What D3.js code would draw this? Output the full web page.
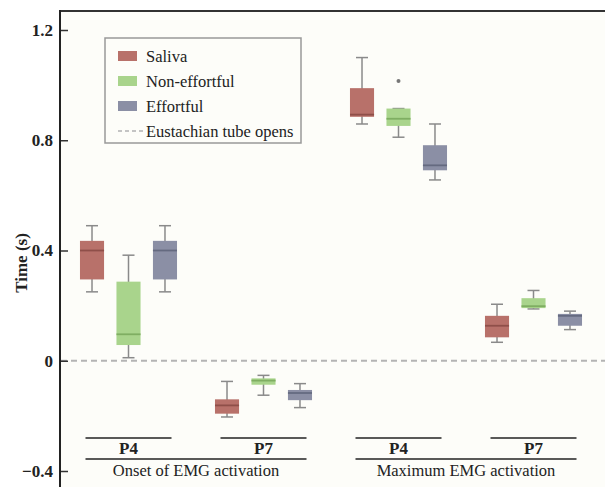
<!DOCTYPE html>
<html>
<head>
<meta charset="utf-8">
<script src="https://d3js.org/d3.v7.min.js"></script>
<style>
  body { margin: 0; background: #fff; }
  svg { display: block; }
</style>
</head>
<body>
<svg width="605" height="487"></svg>
<script>
// groups along the x axis
var groups = ["Onset P4", "Onset P7", "Max P4", "Max P7"];
var series = ["Saliva", "Non-effortful", "Effortful"];
var colors = ["#b8716a", "#a9d48c", "#8b8fa5"];
var medianColors = ["#8f4f49", "#7fae62", "#656a80"];

// box stats per group: [min, q1, median, q3, max]
var saliva = [
    [0.25, 0.295, 0.40, 0.435, 0.49],
    [-0.204, -0.192, -0.162, -0.14, -0.075],
    [0.859, 0.885, 0.893, 0.989, 1.10],
    [0.067, 0.085, 0.127, 0.163, 0.205]
];
var nonEffortful = [
    [0.011, 0.057, 0.096, 0.287, 0.383],
    [-0.125, -0.087, -0.072, -0.064, -0.053],
    [0.811, 0.852, 0.878, 0.915, 0.915],
    [0.188, 0.191, 0.198, 0.227, 0.255]
];
var effortful = [
    [0.25, 0.295, 0.40, 0.435, 0.49],
    [-0.17, -0.143, -0.117, -0.106, -0.083],
    [0.656, 0.691, 0.709, 0.782, 0.859],
    [0.113, 0.127, 0.163, 0.17, 0.18]
];
// outliers: [group index, series index, value]
var outliers = [[2, 1, 1.015]];

var yTicks = [-0.4, 0, 0.4, 0.8, 1.2];
var subLabels = ["P4", "P7", "P4", "P7"];
var bigLabels = ["Onset of EMG activation", "Maximum EMG activation"];

var svg = d3.select("svg");
var allStats = [saliva, nonEffortful, effortful];
var serif = "'Liberation Serif', 'Times New Roman', serif";

var y = d3.scaleLinear().domain([-0.4, 1.2]).range([471, 30]);
var x0 = d3.scaleBand().domain(groups).range([61, 601]);
var x1 = d3.scaleBand().domain(series).range([0, x0.bandwidth()])
    .paddingInner(0.34).paddingOuter(0.52);

// background
svg.append("rect").attr("x", 0).attr("y", 0).attr("width", 605).attr("height", 487)
    .attr("fill", "#fff");
svg.append("rect").attr("x", 59).attr("y", 11).attr("width", 546).attr("height", 476)
    .attr("fill", "#fdfdf9");

// zero line (Eustachian tube opens)
svg.append("line")
    .attr("x1", 61).attr("x2", 605)
    .attr("y1", y(0)).attr("y2", y(0))
    .attr("stroke", "#b4b4b4").attr("stroke-width", 2)
    .attr("stroke-dasharray", "6,4");

// boxes
series.forEach(function(s, si) {
    var g = svg.append("g").attr("class", "series");
    allStats[si].forEach(function(d, gi) {
        var bx = x0(groups[gi]) + x1(s), bw = x1.bandwidth(), cx = bx + bw / 2;
        // whisker
        g.append("line").attr("x1", cx).attr("x2", cx)
            .attr("y1", y(d[0])).attr("y2", y(d[4]))
            .attr("stroke", "#8a8a8a").attr("stroke-width", 1.5);
        [d[0], d[4]].forEach(function(v) {
            g.append("line").attr("x1", cx - 6).attr("x2", cx + 6)
                .attr("y1", y(v)).attr("y2", y(v))
                .attr("stroke", "#8a8a8a").attr("stroke-width", 1.5);
        });
        g.append("rect")
            .attr("x", bx).attr("width", bw)
            .attr("y", y(d[3])).attr("height", y(d[1]) - y(d[3]))
            .attr("fill", colors[si]);
        g.append("line").attr("x1", bx).attr("x2", bx + bw)
            .attr("y1", y(d[2])).attr("y2", y(d[2]))
            .attr("stroke", medianColors[si]).attr("stroke-width", 1.8);
    });
});

outliers.forEach(function(o) {
    svg.append("circle")
        .attr("cx", x0(groups[o[0]]) + x1(series[o[1]]) + x1.bandwidth() / 2)
        .attr("cy", y(o[2])).attr("r", 2)
        .attr("fill", "#777");
});

// frame: top line + left axis
svg.append("line").attr("x1", 59).attr("x2", 605).attr("y1", 11).attr("y2", 11)
    .attr("stroke", "#333").attr("stroke-width", 2);

var axis = svg.append("g")
    .attr("transform", "translate(60,0)")
    .call(d3.axisRight(y).tickValues(yTicks).tickSize(8).tickFormat(function(d) { return d === 0 ? "0" : d3.format(".1f")(d); }));
axis.select(".domain").remove();
axis.selectAll(".tick line").attr("stroke", "#333").attr("stroke-width", 1.5);
axis.selectAll(".tick text")
    .attr("x", -7).attr("text-anchor", "end")
    .style("font-family", serif)
    .style("font-weight", "bold").style("font-size", "17px").attr("fill", "#222");
svg.append("line").attr("x1", 60).attr("x2", 60).attr("y1", 10).attr("y2", 487)
    .attr("stroke", "#222").attr("stroke-width", 2);

svg.append("text")
    .attr("transform", "translate(27,263) rotate(-90)")
    .attr("text-anchor", "middle")
    .style("font-family", serif)
    .style("font-weight", "bold").style("font-size", "17px").attr("fill", "#222")
    .text("Time (s)");

// group labels
groups.forEach(function(gname, gi) {
    var cx = x0(gname) + x0.bandwidth() / 2;
    svg.append("line").attr("x1", cx - 43).attr("x2", cx + 43)
        .attr("y1", 438).attr("y2", 438).attr("stroke", "#222").attr("stroke-width", 1.5);
    svg.append("text").attr("x", cx).attr("y", 454).attr("text-anchor", "middle")
        .style("font-family", serif).style("font-weight", "bold").style("font-size", "17px")
        .attr("fill", "#222").text(subLabels[gi]);
});
bigLabels.forEach(function(lbl, i) {
    var a = x0(groups[i * 2]) + x0.bandwidth() / 2 - 43,
        b = x0(groups[i * 2 + 1]) + x0.bandwidth() / 2 + 43;
    svg.append("line").attr("x1", a).attr("x2", b).attr("y1", 459).attr("y2", 459)
        .attr("stroke", "#222").attr("stroke-width", 1.5);
    svg.append("text").attr("x", (a + b) / 2).attr("y", 476).attr("text-anchor", "middle")
        .style("font-family", serif).style("font-size", "16.5px").attr("fill", "#222")
        .text(lbl);
});

// legend
var legend = svg.append("g").attr("transform", "translate(105,38)");
legend.append("rect").attr("width", 196).attr("height", 105)
    .attr("fill", "#fdfdf9").attr("stroke", "#999").attr("stroke-width", 1.5);
series.forEach(function(s, i) {
    var row = legend.append("g").attr("transform", "translate(0," + (18 + i * 25) + ")");
    row.append("rect").attr("x", 13).attr("y", -5).attr("width", 19).attr("height", 10)
        .attr("fill", colors[i]);
    row.append("text").attr("x", 41).attr("y", 6)
        .style("font-family", serif).style("font-size", "16.5px").attr("fill", "#222").text(s);
});
var lastRow = legend.append("g").attr("transform", "translate(0,93)");
lastRow.append("line").attr("x1", 13).attr("x2", 40).attr("y1", 0).attr("y2", 0)
    .attr("stroke", "#c4c4c4").attr("stroke-width", 2).attr("stroke-dasharray", "4,3");
lastRow.append("text").attr("x", 41).attr("y", 6)
    .style("font-family", serif).style("font-size", "16.5px").attr("fill", "#222")
    .text("Eustachian tube opens");
</script>
</body>
</html>
